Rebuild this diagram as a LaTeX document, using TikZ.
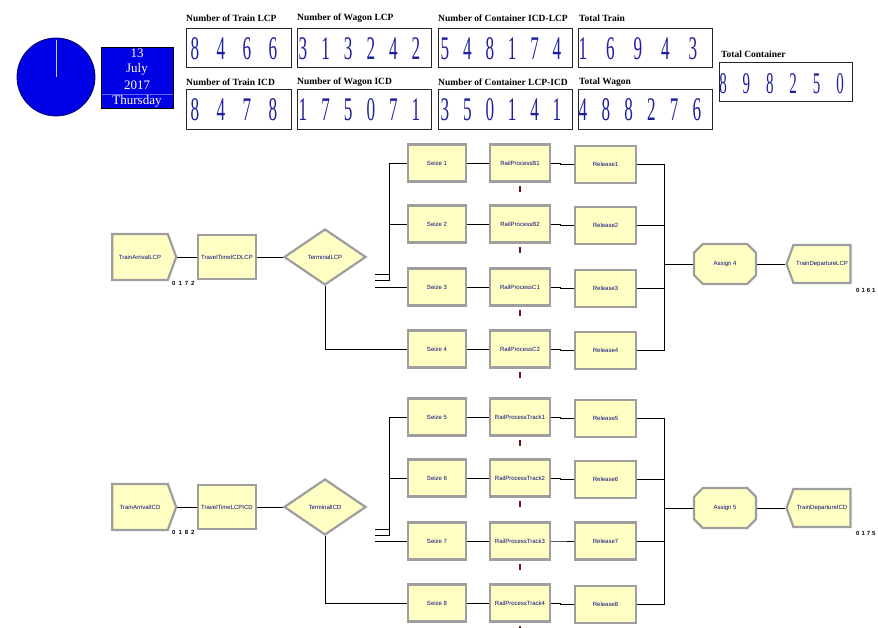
\documentclass[tikz,border=0pt]{standalone}
\usepackage{fontspec}
\setmainfont{Liberation Serif}
\setsansfont{Liberation Sans}
\usepackage{graphicx}
\usetikzlibrary{shapes.geometric,shapes.misc,shapes.symbols,calc}

\definecolor{blockfill}{RGB}{255,255,196}
\definecolor{blockedge}{RGB}{158,158,158}
\definecolor{labnavy}{RGB}{10,10,120}
\definecolor{digblue}{RGB}{30,30,160}
\definecolor{clockblue}{RGB}{0,0,228}
\definecolor{clockedge}{RGB}{0,0,110}
\definecolor{resred}{RGB}{110,25,25}

\newcommand\blkfont{\sffamily\fontsize{6}{7}\selectfont}
\newcommand\dispfont{\rmfamily\bfseries\fontsize{9.5}{10}\selectfont}
\makeatletter
\newcommand\digs[3]{\@tfor\dd:=#3\do{\makebox[#1][c]{\scalebox{#2}[1]{\dd}}}}
\makeatother

\tikzset{
  blk/.style={rectangle, draw=blockedge, line width=2.2pt, fill=blockfill, inner sep=0pt,
    minimum height=37pt, font=\blkfont, text=labnavy},
  seizebox/.style={blk, minimum width=58pt},
  railbox/.style={blk, minimum width=60pt},
  relbox/.style={blk, minimum width=61pt},
  travelbox/.style={blk, minimum width=58pt, minimum height=44pt},
  decbox/.style={diamond, draw=blockedge, line width=2.2pt, fill=blockfill, inner sep=0pt,
    minimum width=82pt, minimum height=56pt, font=\blkfont, text=labnavy},
  asgbox/.style={chamfered rectangle, chamfered rectangle xsep=6pt, chamfered rectangle ysep=6pt,
    draw=blockedge, line width=2.2pt, fill=blockfill, inner sep=0pt,
    minimum width=62pt, minimum height=40pt, font=\blkfont, text=labnavy},
  createbox/.style={signal, signal to=east, signal pointer angle=140, draw=blockedge,
    line width=2.2pt, fill=blockfill, inner sep=0pt, minimum width=64pt, minimum height=46pt,
    font=\blkfont, text=labnavy},
  disposebox/.style={signal, signal to=west, signal pointer angle=140, draw=blockedge,
    line width=2.2pt, fill=blockfill, inner sep=0pt, minimum width=64pt, minimum height=38pt,
    font=\blkfont, text=labnavy},
  conn/.style={draw=black, line width=0.8pt},
  cnt/.style={font=\sffamily\bfseries\fontsize{6}{7}\selectfont, inner sep=0pt, anchor=west},
  dbox/.style={rectangle, draw=black!85, line width=1.3pt, fill=white, inner sep=0pt},
  dlab/.style={font=\dispfont, inner sep=0pt, anchor=west},
  dig/.style={font=\rmfamily\fontsize{33}{33}\selectfont, text=digblue, inner sep=0pt},
  digsmall/.style={font=\rmfamily\fontsize{30}{30}\selectfont, text=digblue, inner sep=0pt},
  resmark/.style={rectangle, fill=resred, minimum width=2pt, minimum height=6pt, inner sep=0pt},
  datetxt/.style={font=\rmfamily\fontsize{13}{14}\selectfont, text=white, inner sep=0pt}
}

\begin{document}
\begin{tikzpicture}[x=1pt,y=-1pt]
\useasboundingbox (0,0) rectangle (878,628);
\fill[white] (0,0) rectangle (878,628);

% ---------- clock and date ----------
\node[circle, fill=clockblue, draw=clockedge, line width=0.8pt, minimum size=78pt, inner sep=0pt] (clock) at (56,77) {};
\coordinate (handtip) at (56,40);
\draw[draw=black!20, line width=1pt] (clock.center) -- (handtip);
\node[rectangle, fill=clockblue, draw=black, line width=0.6pt, minimum width=72pt, minimum height=61pt, inner sep=0pt] (date) at (137,77.5) {};
\coordinate (dvl) at (101.5,94.5);
\coordinate (dvr) at (172.5,94.5);
\draw[draw=blue!60!white, line width=0.6pt] (dvl) -- (dvr);
\node[datetxt] (dday) at (137,53) {13};
\node[datetxt] (dmon) at (137,69.5) {July};
\node[datetxt] (dyear) at (137,85) {2017};
\node[datetxt] (dwk) at (137,101) {Thursday};

% ---------- counter displays ----------
\node[dlab] (ltl) at (186,18) {Number of Train LCP};
\node[dbox, minimum width=104.7pt, minimum height=38.7pt] (btl) at (239,48) {};
\node[dig] (ntl) at (234,49) {\digs{26pt}{0.52}{8466}};

\node[dlab] (lwl) at (297,18) {Number of Wagon LCP};
\node[dbox, minimum width=133.7pt, minimum height=38.7pt] (bwl) at (364.5,48) {};
\node[dig] (nwl) at (359.5,49) {\digs{22.6pt}{0.52}{313242}};

\node[dlab] (lcl) at (438,18) {Number of Container ICD-LCP};
\node[dbox, minimum width=133.7pt, minimum height=38.7pt] (bcl) at (505.5,48) {};
\node[dig] (ncl) at (501,49) {\digs{22.4pt}{0.52}{548174}};

\node[dlab] (ltt) at (579,18) {Total Train};
\node[dbox, minimum width=133.7pt, minimum height=38.7pt] (btt) at (645.5,48) {};
\node[dig] (ntt) at (638,49) {\digs{27.5pt}{0.52}{16943}};

\node[dlab] (lti) at (186,82) {Number of Train ICD};
\node[dbox, minimum width=104.7pt, minimum height=39.7pt] (bti) at (239,109.5) {};
\node[dig] (nti) at (234,110) {\digs{26pt}{0.52}{8478}};

\node[dlab] (lwi) at (297,82) {Number of Wagon ICD};
\node[dbox, minimum width=133.7pt, minimum height=39.7pt] (bwi) at (364.5,109.5) {};
\node[dig] (nwi) at (359.5,110) {\digs{22.6pt}{0.52}{175071}};

\node[dlab] (lci) at (438,82) {Number of Container LCP-ICD};
\node[dbox, minimum width=133.7pt, minimum height=39.7pt] (bci) at (505.5,109.5) {};
\node[dig] (nci) at (501,110) {\digs{22.4pt}{0.52}{350141}};

\node[dlab] (ltw) at (579,82) {Total Wagon};
\node[dbox, minimum width=133.7pt, minimum height=39.7pt] (btw) at (645.5,109.5) {};
\node[dig] (ntw) at (640,110) {\digs{22.8pt}{0.52}{488276}};

\node[dlab] (ltc) at (721,54) {Total Container};
\node[dbox, minimum width=132.7pt, minimum height=38.7pt] (btc) at (786,82) {};
\node[digsmall] (ntc) at (781.5,84) {\digs{23.4pt}{0.5}{898250}};

% ---------- upper model (LCP) ----------
\node[createbox] (arrL) at (140,257) {TrainArrivalLCP};
\node[travelbox] (ttL) at (227,257) {TravelTimeICDLCP};
\node[decbox] (termL) at (325,257) {TerminalLCP};
\node[cnt] (cArrL) at (172,283) {0\hspace{3pt}1\hspace{3pt}7\hspace{3pt}2};
\draw[conn] (arrL.east) -- (ttL.west);
\draw[conn] (ttL.east) -- (termL.west);

\foreach \i/\y/\rp/\st in {1/163/RailProcessB1/1.5, 2/224/RailProcessB2/1.5, 3/287/RailProcessC1/1.5, 4/349/RailProcessC2/1.5,
  5/417/RailProcessTrack1/1.5, 6/478/RailProcessTrack2/1.5, 7/541/RailProcessTrack3/0, 8/603/RailProcessTrack4/1.5}{
  \node[seizebox] (sz\i) at (437,\y) {Seize \i};
  \node[railbox] (rp\i) at (520,\y) {\rp};
  \node[relbox] (rl\i) at (605.5,\y+\st) {Release\i};
  \node[resmark] (rm\i) at ($(rp\i.south)+(0,6.5)$) {};
  \draw[conn] (sz\i.east) -- (rp\i.west);
  \draw[conn] (rp\i.east) -- ++(9,0) |- (rl\i.west);
}

\coordinate (xL1) at (375,274);
\coordinate (xL2) at (375,280);
\coordinate (xL3) at (375,287);
\draw[conn] (xL1) -- ++(14,0) |- (sz1.west);
\draw[conn] (xL2) -- ++(14,0) |- (sz2.west);
\draw[conn] (xL3) -- (sz3.west);
\draw[conn] (termL.south) |- (sz4.west);

\coordinate (busL) at (664,264);
\foreach \i in {1,2,3,4}{ \draw[conn] (rl\i.east) -| (busL); }
\node[asgbox] (asgL) at (725,264) {Assign 4};
\node[disposebox] (depL) at (822,264) {TrainDepartureLCP};
\draw[conn] (busL) -- (asgL.west);
\draw[conn] (asgL.east) -- (depL.west);
\node[cnt] (cDepL) at (856,290) {0\hspace{2pt}1\hspace{2pt}6\hspace{2pt}1};

% ---------- lower model (ICD) ----------
\node[createbox] (arrI) at (140,507) {TrainArrivalICD};
\node[travelbox] (ttI) at (227,507) {TravelTimeLCPICD};
\node[decbox] (termI) at (325,507) {TerminalICD};
\node[cnt] (cArrI) at (172,532) {0\hspace{3pt}1\hspace{3pt}8\hspace{3pt}2};
\draw[conn] (arrI.east) -- (ttI.west);
\draw[conn] (ttI.east) -- (termI.west);

\coordinate (xI1) at (375,529);
\coordinate (xI2) at (375,535);
\coordinate (xI3) at (375,541);
\draw[conn] (xI1) -- ++(14,0) |- (sz5.west);
\draw[conn] (xI2) -- ++(14,0) |- (sz6.west);
\draw[conn] (xI3) -- (sz7.west);
\draw[conn] (termI.south) |- (sz8.west);

\coordinate (busI) at (664,508);
\foreach \i in {5,6,7,8}{ \draw[conn] (rl\i.east) -| (busI); }
\node[asgbox] (asgI) at (725,508) {Assign 5};
\node[disposebox] (depI) at (822,508) {TrainDepartureICD};
\draw[conn] (busI) -- (asgI.west);
\draw[conn] (asgI.east) -- (depI.west);
\node[cnt] (cDepI) at (856,533) {0\hspace{2pt}1\hspace{2pt}7\hspace{2pt}5};
\end{tikzpicture}
\end{document}
